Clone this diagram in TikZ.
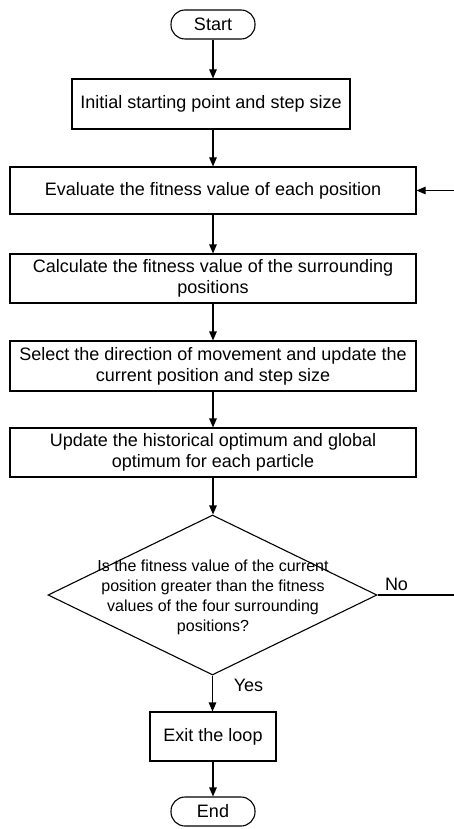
\documentclass[tikz,border=0pt]{standalone}
\usepackage{fontspec}
\setmainfont{Liberation Sans}
\usetikzlibrary{shapes.geometric,arrows.meta}
\begin{document}
\begin{tikzpicture}[x=1pt,y=-1pt,
  every node/.style={font=\fontsize{18}{21}\selectfont, align=center, inner sep=0pt},
  procbox/.style={draw, line width=1.1pt, rectangle},
  termbox/.style={draw, line width=1.1pt, rectangle, rounded corners=14pt, minimum width=84pt, minimum height=29pt},
  arr/.style={line width=1.1pt, -{Triangle[length=9pt,width=7.5pt]}},
  lbl/.style={font=\fontsize{18}{21}\selectfont}]
\useasboundingbox (0,0) rectangle (454,829);
\node[termbox] (start) at (213,24.5) {Start};
\node[procbox, minimum width=278pt, minimum height=50pt] (b1) at (211,104) {Initial starting point and step size};
\node[procbox, minimum width=406pt, minimum height=47pt] (b2) at (213,190.5) {Evaluate the fitness value of each position};
\node[procbox, minimum width=406pt, minimum height=49pt] (b3) at (213,278.5) {Calculate the fitness value of the surrounding\\positions};
\node[procbox, minimum width=406pt, minimum height=50pt] (b4) at (213,366) {Select the direction of movement and update the\\current position and step size};
\node[procbox, minimum width=406pt, minimum height=49pt] (b5) at (213,452.5) {Update the historical optimum and global\\optimum for each particle};
\node[draw, line width=1.1pt, diamond, minimum width=329pt, minimum height=160pt] (d) at (212.5,595) {};
\node[font=\fontsize{16}{20}\selectfont] (dtext) at (213,597) {Is the fitness value of the current\\position greater than the fitness\\values of the four surrounding\\positions?};
\node[procbox, minimum width=126pt, minimum height=49pt] (exit) at (213,736.5) {Exit the loop};
\node[termbox] (end) at (213,811.5) {End};
\node[lbl] (no) at (396.5,584) {No};
\node[lbl] (yes) at (248.5,685) {Yes};
\coordinate (loop) at (462,595);
\draw[arr] (start) -- (start |- b1.north);
\draw[arr] (start |- b1.south) -- (start |- b2.north);
\draw[arr] (b2) -- (b3);
\draw[arr] (b3) -- (b4);
\draw[arr] (b4) -- (b5);
\draw[arr] (b5.south) -- (b5.south |- d.north);
\draw[arr] (d.south) -- (d.south |- exit.north);
\draw[arr] (exit) -- (end);
\draw[arr] (d.east) -- (loop) |- (b2.east);
\end{tikzpicture}
\end{document}
